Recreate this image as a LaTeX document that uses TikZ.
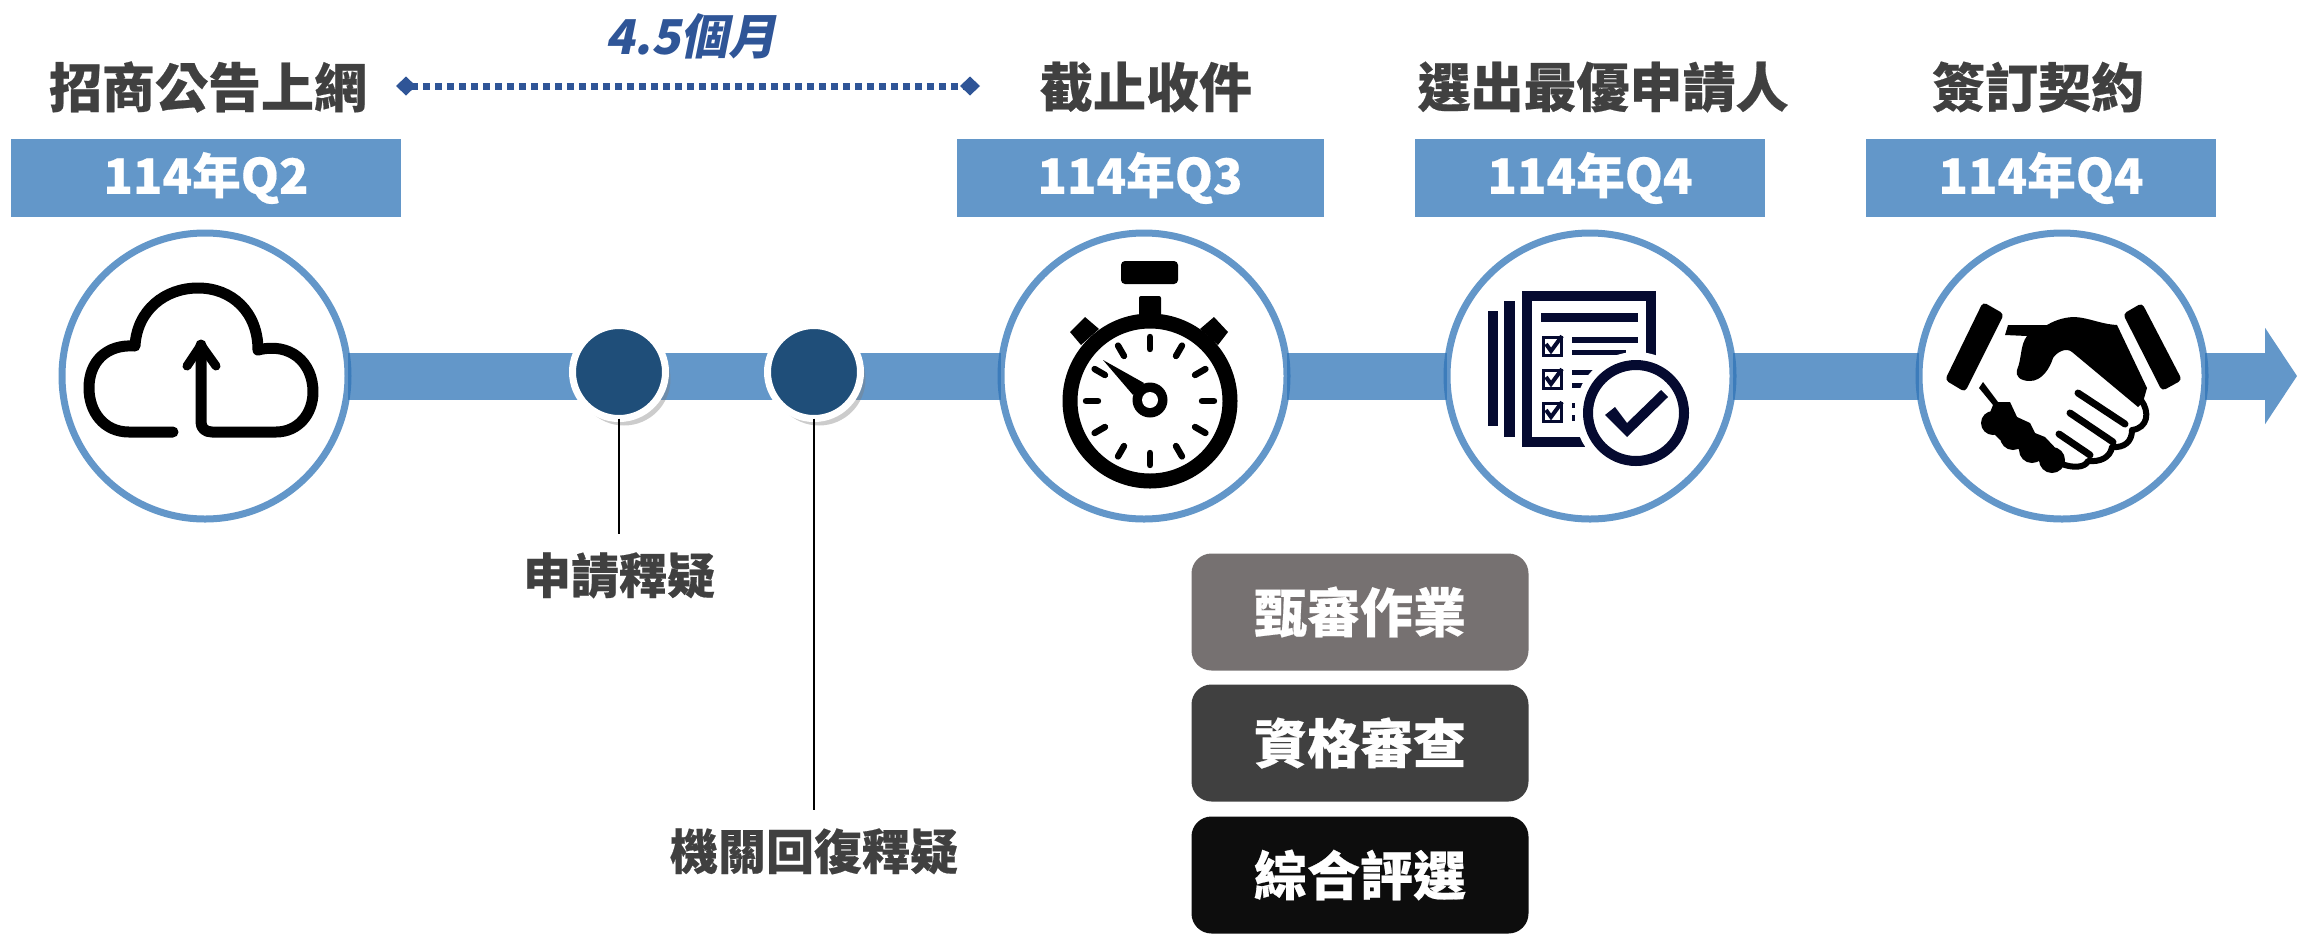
\documentclass[tikz,border=0pt]{standalone}
\usepackage{fontspec}
\usepackage{tikz}
\usetikzlibrary{positioning, arrows.meta, shadows, backgrounds}
\setmainfont{Noto Sans CJK TC}[BoldFeatures={FakeBold=0.4}]
\newfontfamily\slantfont[FakeSlant=0.2]{Noto Sans CJK TC}
\definecolor{barblue}{HTML}{6397C9}
\definecolor{ringblue}{HTML}{2F74B7}
\definecolor{dotblue}{HTML}{1F4E79}
\definecolor{spanblue}{HTML}{2F5597}
\definecolor{textgrey}{HTML}{404040}
\definecolor{docnavy}{HTML}{050A30}
\definecolor{firstgrey}{HTML}{767171}
\definecolor{lastgrey}{HTML}{0D0D0D}
\tikzset{
	x=.5pt, y=-.5pt,
	bigcircle/.style={circle, fill=white, draw=ringblue, draw opacity=.75, line width=3.5pt, minimum size=143pt, inner sep=0pt, outer sep=0pt},
	smalldot/.style={circle, fill=dotblue, draw=white, line width=3.5pt, minimum size=46.5pt, inner sep=0pt, outer sep=0pt,
		drop shadow={shadow xshift=2.5pt, shadow yshift=-3.5pt, opacity=.4}},
	yearbox/.style={fill=barblue, text=white, font=\fontsize{24.3}{30}\selectfont\bfseries, minimum height=39pt, inner sep=0pt, outer sep=0pt},
	steptitle/.style={text=textgrey, font=\fontsize{26.5}{30}\selectfont\bfseries, inner sep=0pt},
	qalabel/.style={text=textgrey, font=\fontsize{24}{28}\selectfont\bfseries, inner sep=0pt},
	reviewbox/.style={rounded corners=10pt, text=white, font=\fontsize{26.5}{30}\selectfont\bfseries, minimum width=168.5pt, minimum height=58.5pt, inner sep=0pt},
	barline/.style={draw=barblue, line width=23.5pt},
	spanline/.style={draw=spanblue, line width=3.5pt, dash pattern=on 3.5pt off 2.5pt, {Diamond[length=10pt,width=9.5pt,fill=spanblue]}-{Diamond[length=10pt,width=9.5pt,fill=spanblue]}},
}
\begin{document}
\begin{tikzpicture}
	\useasboundingbox (0,0) rectangle (2297,933);

	% circles and dots on the time line
	\node[bigcircle] (cloud) at (205,376) {};
	\node[bigcircle] (watch) at (1144,376) {};
	\node[bigcircle] (list) at (1590,376) {};
	\node[bigcircle] (shake) at (2062,376) {};
	\node[smalldot] (dotA) at (619,372) {};
	\node[smalldot] (dotB) at (814,372) {};
	\coordinate (tip) at (2297,376);
	\begin{scope}[on background layer]
		\draw[barline] (cloud) -- (watch) -- (list) -- (shake);
		\draw[barline, -{Triangle[length=16pt,width=47.5pt]}] (shake) -- (tip);
	\end{scope}

	% year boxes
	\node[yearbox, minimum width=195pt] (yearA) at (206,178) {114年Q2};
	\node[yearbox, minimum width=183.5pt] (yearB) at (1140,178) {114年Q3};
	\node[yearbox, minimum width=175pt] (yearC) at (1590,178) {114年Q4};
	\node[yearbox, minimum width=175pt] (yearD) at (2041,178) {114年Q4};

	% titles
	\node[steptitle] (titleA) at (208,87) {招商公告上網};
	\node[steptitle] (titleB) at (1146,87) {截止收件};
	\node[steptitle] (titleC) at (1603,87) {選出最優申請人};
	\node[steptitle] (titleD) at (2038,87) {簽訂契約};

	% span of the first stage
	\coordinate (spanA) at (396,86);
	\coordinate (spanB) at (980,86);
	\draw[spanline] (spanA) -- (spanB);
	\node[text=spanblue, font=\fontsize{24}{28}\selectfont\slantfont\bfseries, inner sep=0pt] (span) at (691,36) {4.5個月};

	% questions and replies
	\coordinate (dotAend) at (619,534);
	\coordinate (dotBend) at (814,810);
	\draw[black, line width=.6pt] (dotA) -- (dotAend);
	\draw[black, line width=.6pt] (dotB) -- (dotBend);
	\node[qalabel, below=9pt of dotAend] (askA) {申請釋疑};
	\node[qalabel, below=9pt of dotBend] (askB) {機關回復釋疑};

	% review steps
	\node[reviewbox, fill=firstgrey] (reviewA) at (1360,612) {甄審作業};
	\node[reviewbox, fill=textgrey] (reviewB) at (1360,743) {資格審查};
	\node[reviewbox, fill=lastgrey] (reviewC) at (1360,875) {綜合評選};

	% cloud icon
	\draw[black, line width=5.5pt, line cap=round, line join=round]
		(173,432) -- (129,432) .. controls (104,432) and (89,412) .. (89,388)
		.. controls (89,362) and (106,344) .. (135,346)
		.. controls (137,310) and (165,288) .. (198,288)
		.. controls (232,288) and (258,312) .. (258,350)
		.. controls (290,342) and (313,362) .. (313,392)
		.. controls (313,414) and (298,432) .. (276,432) -- (212,432)
		.. controls (205,432) and (201,428) .. (201,422) -- (201,345);
	\draw[black, line width=4.5pt, line cap=round, line join=round] (187,366) -- (201,345) -- (216,366);

	% stopwatch icon
	\fill[black, rounded corners=2pt] (1121,261) rectangle (1178,284);
	\fill[black, rounded corners=1pt] (1139,296) rectangle (1161,320);
	\fill[black] (1085,317) -- (1099,329) -- (1081,345) -- (1070,332) -- cycle;
	\fill[black] (1214,317) -- (1200,329) -- (1218,345) -- (1228,332) -- cycle;
	\draw[black, line width=7.5pt] (1150,401) circle (80);
	\foreach \a in {0,30,...,330}
		\draw[black, line width=3.2pt, line cap=round] (1150,401) ++(\a:52) -- ++(\a:12);
	\fill[black] (1103,360) -- (1144,383) -- (1133,395) -- cycle;
	\fill[black] (1150,400) circle (17.5);
	\fill[white] (1150,400) circle (8);

	% document icon
	\begin{scope}[docnavy]
		\fill (1488,311) rectangle (1498,426);
		\fill (1504,301) rectangle (1515,437);
		\draw[line width=5pt] (1527,296) rectangle (1651,442);
		\fill (1541,313) rectangle (1638,322);
		\foreach \y in {336,369,402} {
			\draw[line width=1.5pt] (1543,\y+1) rectangle (1561,\y+19);
			\draw[line width=2pt] (1546,\y+8) -- (1551,\y+15) -- (1562,\y);
		}
		\fill (1572,337) rectangle (1638,343);
		\fill (1572,350) rectangle (1626,355);
		\fill (1572,370) rectangle (1593,375);
		\fill (1572,383) rectangle (1583,388);
		\fill (1572,403) rectangle (1575,408);
		\fill (1572,415) rectangle (1575,421);
		\fill[white] (1636,413) circle (61);
		\draw[line width=5pt] (1636,413) circle (48);
		\fill (1605,415) -- (1615,407) -- (1627,423) -- (1661,390) -- (1668,397) -- (1627,437) -- cycle;
	\end{scope}

	% handshake icon
	\fill[black, rounded corners=2pt] (1983,302) -- (2004,314) -- (1965,392) -- (1945,380) -- cycle;
	\fill[black, rounded corners=2pt] (2142,303) -- (2123,314) -- (2162,391) -- (2182,380) -- cycle;
	\fill[black] (2008,325) -- (2047,325) .. controls (2057,319) and (2067,317) .. (2075,317)
		.. controls (2090,318) and (2100,324) .. (2117,325) -- (2147,388) -- (2143,402) -- (2138,407)
		-- (2072,352) .. controls (2066,347) and (2057,352) .. (2053,358)
		.. controls (2050,368) and (2042,381) .. (2030,381)
		.. controls (2020,381) and (2015,376) .. (2017,370)
		.. controls (2022,358) and (2020,345) .. (2027,336) -- (2005,335) -- cycle;
	\draw[black, line width=3pt, line join=round]
		(2141,400) .. controls (2150,412) and (2148,428) .. (2132,430)
		.. controls (2132,442) and (2124,448) .. (2112,447)
		.. controls (2110,458) and (2100,462) .. (2088,461)
		.. controls (2085,468) and (2072,468) .. (2062,464);
	\draw[black, line width=3.5pt, line cap=round] (2078,393) -- (2125,424);
	\draw[black, line width=3.5pt, line cap=round] (2070,413) -- (2113,442);
	\draw[black, line width=3.5pt, line cap=round] (2059,434) -- (2090,455);
	\fill[black] (1983,382) -- (1979,388) -- (1993,405) -- (1985,425) -- (2000,440) -- (2020,450)
		-- (2040,462) -- (2055,472) -- (2065,462) -- (2062,455) -- (2045,437) -- (2035,433) -- (2030,423)
		-- (2017,417) -- (2010,402) -- (1998,402) -- cycle;
	\foreach \hx/\hy/\hr in {1993/423/12, 2013/437/13, 2032/450/13, 2052/460/13}
		\fill[black] (\hx,\hy) circle (\hr);
\end{tikzpicture}
\end{document}
